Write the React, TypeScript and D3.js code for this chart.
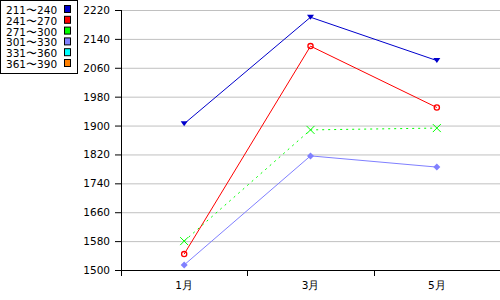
import React from "react";
import * as d3 from "d3";

const categories = ["1月", "3月", "5月"];
const seriesNames = ["211〜240", "241〜270", "271〜300", "301〜330", "331〜360", "361〜390"];
const seriesColors = ["#0000cc", "#ff0000", "#00ff00", "#8080ff", "#00ffff", "#ff8000"];
const s211 = [1905, 2200, 2080];
const s241 = [1544, 2120, 1950];
const s271 = [1580, 1888, 1893];
const s301 = [1514, 1816, 1785];
const yTicks = [1500, 1580, 1660, 1740, 1820, 1900, 1980, 2060, 2140, 2220];

const seriesData = [s211, s241, s271, s301];
const markers = ["tri", "circ", "x", "dia"];

export default function App() {
  const W = 500, H = 300;
  const left = 121, right = 500, top = 10, bottom = 270;
  const x = d3.scaleBand<string>().domain(categories).range([left, right]);
  const y = d3.scaleLinear().domain([1500, 2220]).range([bottom, top]);
  const font = "'DejaVu Sans', Verdana, sans-serif";
  const line = d3.line<number>().x((_, i) => (x(categories[i]) as number) + x.bandwidth() / 2).y((d) => y(d));

  const marker = (type: string, cx: number, cy: number, color: string, key: string) => {
    if (type === "tri") {
      return <path key={key} d={`M${cx - 3.5},${cy - 2.5}L${cx + 3.5},${cy - 2.5}L${cx},${cy + 2.5}Z`} fill={color} />;
    }
    if (type === "circ") {
      return <circle key={key} cx={cx} cy={cy} r={2.6} fill="none" stroke={color} strokeWidth={1.3} />;
    }
    if (type === "x") {
      return <path key={key} d={`M${cx - 4},${cy - 4}L${cx + 4},${cy + 4}M${cx - 4},${cy + 4}L${cx + 4},${cy - 4}`} stroke={color} strokeWidth={1} />;
    }
    return <path key={key} d={`M${cx},${cy - 3.5}L${cx + 3.5},${cy}L${cx},${cy + 3.5}L${cx - 3.5},${cy}Z`} fill={color} />;
  };

  return (
    <svg width={W} height={H} style={{ position: "absolute", left: 0, top: 0, background: "#fff" }} fontFamily={font}>
      <rect x={0} y={0} width={W} height={H} fill="#fff" />
      {yTicks.slice(1).map((t) => (
        <line key={"g" + t} x1={left} x2={right} y1={y(t) + 0.5} y2={y(t) + 0.5} stroke="#c0c0c0" strokeWidth={1} />
      ))}
      {yTicks.map((t) => (
        <g key={"t" + t}>
          <line x1={left - 6} x2={left} y1={y(t) + 0.5} y2={y(t) + 0.5} stroke="#000" />
          <text x={left - 11} y={y(t) + 4} textAnchor="end" fontSize={10.5} fill="#000">{t}</text>
        </g>
      ))}
      <line x1={left + 0.5} x2={left + 0.5} y1={top} y2={bottom + 6} stroke="#000" />
      <line x1={left} x2={right} y1={bottom + 0.5} y2={bottom + 0.5} stroke="#000" />
      {categories.slice(1).map((c) => (
        <line key={"xt" + c} x1={Math.round(x(c) as number) + 0.5} x2={Math.round(x(c) as number) + 0.5} y1={bottom} y2={bottom + 6} stroke="#000" />
      ))}
      {categories.map((c) => (
        <text key={"xl" + c} x={(x(c) as number) + x.bandwidth() / 2} y={289} textAnchor="middle" fontSize={10.5} fill="#000">{c}</text>
      ))}
      {seriesData.map((s, si) => (
        <g key={"s" + si}>
          <path d={line(s) as string} fill="none" stroke={seriesColors[si]} strokeWidth={1} strokeDasharray={si === 2 ? "2,4" : undefined} />
          {s.map((v, i) => marker(markers[si], (x(categories[i]) as number) + x.bandwidth() / 2, y(v), seriesColors[si], `m${si}-${i}`))}
        </g>
      ))}
      <rect x={0.5} y={0.5} width={77} height={73} fill="#fff" stroke="#000" />
      {seriesNames.map((n, i) => (
        <g key={"lg" + i}>
          <text x={6} y={14 + i * 10.8} fontSize={10.5} fill="#000">{n}</text>
          <rect x={64.5} y={5.5 + i * 10.8} width={6} height={7} fill={seriesColors[i]} stroke="#000" strokeWidth={1} />
        </g>
      ))}
    </svg>
  );
}
